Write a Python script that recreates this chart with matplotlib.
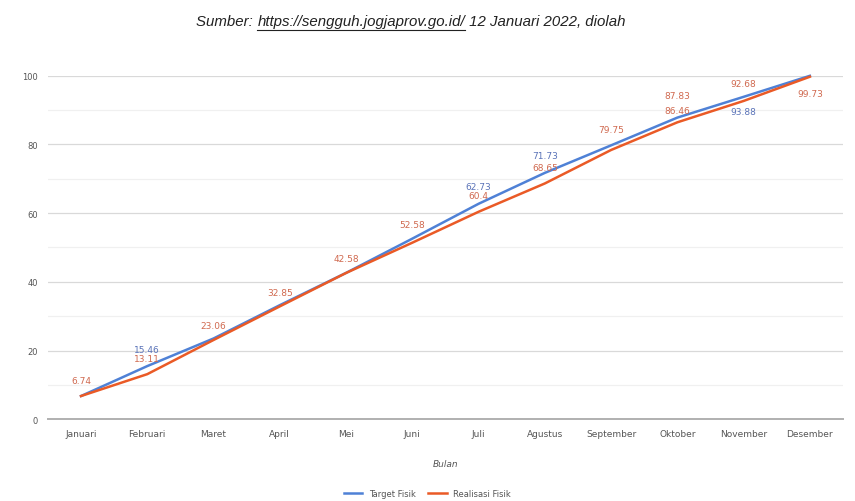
import numpy as np
import matplotlib
matplotlib.use("Agg")
from matplotlib import pyplot as plt
from matplotlib.lines import Line2D

# bulan
bulan = ["Januari", "Februari", "Maret", "April", "Mei", "Juni", "Juli",
         "Agustus", "September", "Oktober", "November", "Desember"]
# target fisik (%)
target = [6.74, 15.46, 23.5, 33.2, 42.6, 52.58, 62.73, 71.73, 79.75, 87.83, 93.88, 100.0]
# realisasi fisik (%)
realisasi = [6.74, 13.11, 23.06, 32.85, 42.58, 51.4, 60.4, 68.65, 78.4, 86.46, 92.68, 99.73]

# label yang tampil: indeks bulan -> offset y (px)
label_target = {1: 17, 5: 14, 6: 17, 7: 17, 8: 16, 9: 22, 10: -15}
label_real = {0: 16, 1: 16, 2: 14, 3: 14, 4: 14, 6: 16, 7: 16, 9: 12, 10: 17, 11: -17}

C_BLUE = "#4f81d6"
C_ORANGE = "#ea5a26"
C_LBL_BLUE = "#5a73b8"
C_LBL_OR = "#d0694f"
# warna label target yang tampak kemerahan di gambar
target_lbl_orange = {5, 8, 9}

fig = plt.figure(figsize=(8.55, 5.02), dpi=100)
ax = fig.add_axes([0.056, 0.163, 0.93, 0.684])

x = np.arange(len(bulan))
ax.plot(x, target, color=C_BLUE, lw=1.8, label="Target Fisik", clip_on=False, zorder=3)
ax.plot(x, realisasi, color=C_ORANGE, lw=1.8, label="Realisasi Fisik", clip_on=False, zorder=3)

for i, dy in label_target.items():
    c = C_LBL_OR if i in target_lbl_orange else C_LBL_BLUE
    ax.annotate(f"{target[i]:g}", (x[i], target[i]), xytext=(0, dy), textcoords="offset pixels",
                ha="center", va="center", fontsize=6.5, color=c)
for i, dy in label_real.items():
    ax.annotate(f"{realisasi[i]:g}", (x[i], realisasi[i]), xytext=(0, dy), textcoords="offset pixels",
                ha="center", va="center", fontsize=6.5, color=C_LBL_OR)

ax.set_xlim(-0.5, len(bulan) - 0.5)
ax.set_ylim(0, 100)
ax.set_xticks(x)
ax.set_xticklabels(bulan, fontsize=6.5, color="#555555")
ax.set_yticks(np.arange(0, 101, 20))
ax.set_yticks(np.arange(10, 100, 20), minor=True)
ax.tick_params(axis="y", labelsize=6, colors="#555555", length=0, pad=7)
ax.tick_params(axis="y", which="minor", length=0)
ax.tick_params(axis="x", length=0, pad=7)
ax.grid(which="major", axis="y", color="#d9d9d9", lw=0.9)
ax.grid(which="minor", axis="y", color="#f0f0f0", lw=0.9)
for s in ["top", "right", "left"]:
    ax.spines[s].set_visible(False)
ax.spines["bottom"].set_color("#b0b0b0")
ax.spines["bottom"].set_linewidth(1.4)
ax.set_axisbelow(True)

ax.set_xlabel("Bulan", fontsize=6.5, color="#555555", style="italic", labelpad=15)

fig.legend(handles=[Line2D([], [], color=C_BLUE, lw=1.8), Line2D([], [], color=C_ORANGE, lw=1.8)],
           labels=["Target Fisik", "Realisasi Fisik"], loc="center", bbox_to_anchor=(0.5, 0.015),
           ncol=2, frameon=False, fontsize=6, handlelength=2.2, columnspacing=1.5, labelcolor="#555555")

# judul sumber dengan url bergaris bawah
parts = ["Sumber: ", "https://sengguh.jogjaprov.go.id/", " 12 Januari 2022, diolah"]
fp = dict(fontsize=10.8, style="italic", family="Liberation Sans", color="#222222")
fig.canvas.draw()
r = fig.canvas.get_renderer()
tmp = [fig.text(0, 0, p, **fp) for p in parts]
widths = [t.get_window_extent(r).width for t in tmp]
for t in tmp:
    t.remove()
W = fig.bbox.width
xpos = 411 - sum(widths) / 2
ytitle = 1 - 22 / 502
for p, w in zip(parts, widths):
    fig.text(xpos / W, ytitle, p, va="center", ha="left", **fp)
    if p.startswith("https"):
        fig.add_artist(Line2D([xpos / W, (xpos + w) / W], [ytitle - 0.018, ytitle - 0.018],
                              color="#222222", lw=0.8, transform=fig.transFigure))
    xpos += w

fig.savefig("out.png", dpi=100)
